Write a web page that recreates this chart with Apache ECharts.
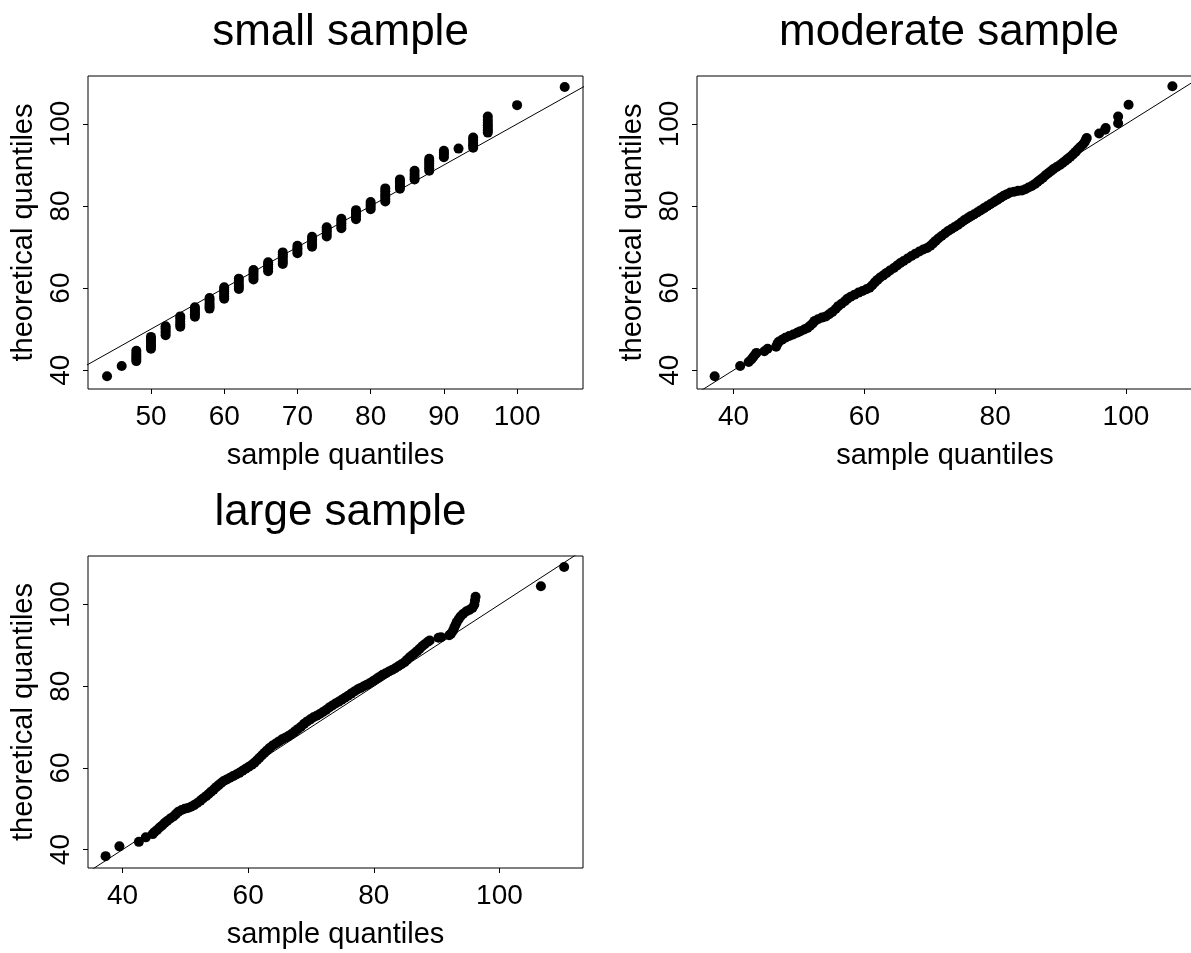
<!DOCTYPE html>
<html>
<head>
<meta charset="utf-8">
<script src="https://cdn.jsdelivr.net/npm/echarts@6/dist/echarts.min.js"></script>
<style>
html,body{margin:0;padding:0;background:#fff;}
#c{width:1191px;height:953px;}
</style>
</head>
<body>
<div id="c"></div>
<script>
// ---- data (sample quantile, theoretical quantile) ----
const titles = ['small sample', 'moderate sample', 'large sample'];
const xName = 'sample quantiles';
const yName = 'theoretical quantiles';
const xTicksSmall = [50, 60, 70, 80, 90, 100];
const xTicksModerate = [40, 60, 80, 100];
const xTicksLarge = [40, 60, 80, 100];
const yTicks = [40, 60, 80, 100];
const refLine = [[20, 20], [130, 130]]; // y = x

const smallSample = [
  [44,38.5],[46,41.0],
  [48,42.2],[48,42.8],[48,43.4],[48,44.0],[48,44.7],
  [50,45.2],[50,45.8],[50,46.4],[50,47.0],[50,47.5],[50,48.1],
  [52,48.5],[52,49.1],[52,49.6],[52,50.2],[52,50.7],
  [54,50.6],[54,51.2],[54,51.8],[54,52.5],[54,53.1],
  [56,53.0],[56,53.6],[56,54.2],[56,54.8],[56,55.3],
  [58,55.0],[58,55.6],[58,56.2],[58,56.9],[58,57.6],
  [60,57.4],[60,58.0],[60,58.6],[60,59.2],[60,59.7],[60,60.2],
  [62,59.8],[62,60.4],[62,61.0],[62,61.7],[62,62.3],
  [64,62.1],[64,62.7],[64,63.3],[64,63.9],[64,64.4],
  [66,64.1],[66,64.7],[66,65.2],[66,65.8],[66,66.3],
  [68,65.9],[68,66.5],[68,67.1],[68,67.7],[68,68.2],[68,68.7],
  [70,68.5],[70,69.1],[70,69.7],[70,70.3],
  [72,70.1],[72,70.7],[72,71.3],[72,71.9],[72,72.5],
  [74,72.6],[74,73.2],[74,73.8],[74,74.3],[74,74.8],
  [76,74.6],[76,75.2],[76,75.8],[76,76.4],[76,76.9],
  [78,76.8],[78,77.4],[78,78.0],[78,78.5],[78,79.0],
  [80,79.2],[80,79.8],[80,80.4],[80,81.0],
  [82,81.1],[82,81.7],[82,82.3],[82,82.9],[82,83.6],[82,84.3],
  [84,84.2],[84,84.8],[84,85.4],[84,86.0],[84,86.5],
  [86,86.5],[86,87.1],[86,87.8],[86,88.6],
  [88,88.6],[88,89.2],[88,89.8],[88,90.4],[88,91.0],[88,91.5],
  [90,91.9],[90,92.5],[90,93.0],[90,93.5],
  [92,94.0],
  [94,94.2],[94,94.8],[94,95.4],[94,96.1],[94,96.7],
  [96,97.9],[96,98.5],[96,99.1],[96,99.7],[96,100.3],[96,101.0],[96,101.8],
  [100,104.6],[106.5,109.0]
];

const moderateSample = [
  [37.1,38.5],[41.0,41.0],[42.3,42.0],[42.7,42.6],[43.0,43.2],[43.3,43.8],[43.5,44.2],
  [44.7,44.6],[45.2,45.2],[46.5,45.7],[46.7,46.4],[46.9,46.9],[47.4,47.4],[47.9,47.9],
  [48.5,48.3],[49.1,48.7],[49.7,49.1],[50.2,49.5],[50.8,49.9],[51.3,50.3],[51.7,50.8],
  [52.1,51.4],[52.4,52.0],[52.9,52.4],[53.5,52.8],[54.1,53.1],[54.6,53.6],[55.1,54.2],
  [55.6,54.9],[56.0,55.6],[56.5,56.2],[57.0,56.8],[57.4,57.4],[57.9,57.9],[58.5,58.4],
  [59.1,58.9],[59.7,59.3],[60.3,59.7],[60.8,60.1],[61.2,60.7],[61.6,61.4],[62.0,62.0],
  [62.4,62.6],[62.9,63.1],[63.4,63.7],[63.9,64.3],[64.5,64.9],[65.0,65.5],[65.5,66.1],
  [66.0,66.6],[66.6,67.2],[67.2,67.8],[67.8,68.4],[68.4,68.9],[69.0,69.4],[69.6,69.8],
  [70.1,70.3],[70.5,70.9],[70.9,71.5],[71.3,72.1],[71.8,72.7],[72.3,73.3],[72.8,73.9],
  [73.3,74.4],[73.8,74.9],[74.3,75.4],[74.8,76.0],[75.3,76.6],[75.8,77.1],[76.3,77.6],
  [76.8,78.0],[77.3,78.5],[77.8,79.0],[78.3,79.5],[78.8,80.0],[79.3,80.5],[79.8,81.0],
  [80.3,81.5],[80.8,82.0],[81.3,82.5],[81.8,82.9],[82.3,83.3],[82.9,83.5],[83.5,83.7],
  [84.1,83.8],[84.6,84.1],[85.1,84.5],[85.6,84.9],[86.1,85.4],[86.5,85.9],[86.9,86.4],
  [87.3,86.9],[87.7,87.5],[88.1,88.0],[88.5,88.5],[88.9,89.0],[89.4,89.5],[89.9,90.0],
  [90.3,90.5],[90.7,91.0],[91.1,91.5],[91.5,92.0],[91.9,92.6],[92.3,93.2],[92.6,93.8],
  [93.0,94.4],[93.4,95.0],[93.7,95.6],[93.9,96.3],[94.0,96.6],
  [95.9,97.7],[96.8,98.6],[96.9,99.0],[98.8,100.2],[98.8,101.8],[100.4,104.7],[107.1,109.2]
];

const largeSample = [
  [37.3,38.4],[39.5,40.8],[42.6,41.9],[43.7,43.0],[44.8,43.8],[45.1,44.3],[45.5,44.8],
  [45.9,45.4],[46.3,45.9],[46.7,46.5],[47.1,47.0],[47.6,47.6],[48.1,48.1],[48.5,48.7],
  [48.9,49.3],[49.4,49.7],[49.9,50.0],[50.4,50.2],[50.9,50.5],[51.4,50.9],[51.9,51.4],
  [52.4,52.0],[52.8,52.5],[53.3,53.1],[53.7,53.6],[54.1,54.2],[54.5,54.7],[54.9,55.3],
  [55.3,55.8],[55.7,56.3],[56.1,56.8],[56.6,57.2],[57.1,57.6],[57.6,58.0],[58.1,58.4],
  [58.6,58.8],[59.1,59.3],[59.6,59.8],[60.1,60.3],[60.6,60.8],[61.0,61.3],[61.4,61.9],
  [61.8,62.5],[62.2,63.1],[62.6,63.7],[63.0,64.3],[63.4,64.9],[63.9,65.5],[64.4,66.0],
  [64.9,66.5],[65.4,67.0],[65.9,67.4],[66.4,67.8],[66.9,68.3],[67.4,68.9],[67.9,69.5],
  [68.4,70.1],[68.9,70.8],[69.4,71.4],[69.9,71.9],[70.4,72.4],[70.9,72.8],[71.4,73.2],
  [71.9,73.7],[72.4,74.2],[72.9,74.8],[73.4,75.3],[73.9,75.8],[74.4,76.2],[74.9,76.7],
  [75.4,77.2],[75.9,77.7],[76.4,78.2],[76.9,78.7],[77.4,79.2],[77.9,79.6],[78.4,80.0],
  [78.9,80.4],[79.4,80.8],[79.9,81.3],[80.4,81.8],[80.9,82.3],[81.4,82.8],[81.9,83.2],
  [82.4,83.6],[82.9,84.0],[83.4,84.4],[83.9,84.9],[84.4,85.4],[84.9,85.9],[85.3,86.5],
  [85.7,87.1],[86.1,87.6],[86.5,88.1],[86.9,88.6],[87.3,89.2],[87.7,89.8],[88.1,90.3],
  [88.6,90.9],[88.9,91.2],[90.3,91.9],[90.7,92.0],[92.0,92.5],[92.3,92.9],
  [92.6,93.6],[92.8,94.3],[93.0,95.0],[93.2,95.7],[93.5,96.4],[93.8,97.1],[94.2,97.7],
  [94.7,98.3],[95.2,98.7],[95.7,99.2],[96.0,100.0],[96.1,101.0],[96.2,101.9],
  [106.6,104.5],[110.3,109.2]
];

// ---- chart ----
const FONT = "'Liberation Sans', Arial, Helvetica, sans-serif";
const TICK_FS = 28, NAME_FS = 29, TITLE_FS = 44;

const grids = [
  {left: 88, top: 76, width: 495, height: 313},
  {left: 697, top: 76, width: 496, height: 313},
  {left: 88, top: 556, width: 495, height: 312}
];
const xRanges = [[41.4, 109.0], [34.4, 110.25], [34.5, 113.3]];
const yRanges = [[35.4, 111.7], [35.4, 111.7], [35.5, 111.9]];
const xTickSets = [xTicksSmall, xTicksModerate, xTicksLarge];
const samples = [smallSample, moderateSample, largeSample];

function xAxisOf(i) {
  return {
    type: 'value', gridIndex: i, min: xRanges[i][0], max: xRanges[i][1],
    name: xName, nameLocation: 'middle', nameGap: 52,
    nameTextStyle: {fontSize: NAME_FS, color: '#000', fontFamily: FONT},
    axisLine: {show: false},
    axisTick: {show: true, inside: false, length: 5, customValues: xTickSets[i], lineStyle: {color: '#000', width: 1}},
    axisLabel: {show: true, customValues: xTickSets[i], margin: 14, fontSize: TICK_FS, color: '#000', fontFamily: FONT},
    splitLine: {show: false}
  };
}
function yAxisOf(i) {
  return {
    type: 'value', gridIndex: i, min: yRanges[i][0], max: yRanges[i][1],
    name: yName, nameLocation: 'middle', nameGap: 50,
    nameTextStyle: {fontSize: NAME_FS, color: '#000', fontFamily: FONT},
    axisLine: {show: false},
    axisTick: {show: true, inside: false, length: 5, customValues: yTicks, lineStyle: {color: '#000', width: 1}},
    axisLabel: {show: true, rotate: 90, customValues: yTicks, margin: 13, fontSize: TICK_FS, color: '#000', fontFamily: FONT},
    splitLine: {show: false}
  };
}

const titleCenters = [[335.5, 6], [944, 6], [335.5, 486]];

const option = {
  backgroundColor: '#fff',
  animation: false,
  title: titles.map((t, i) => ({
    text: t, left: titleCenters[i][0], top: titleCenters[i][1], textAlign: 'center',
    textStyle: {fontSize: TITLE_FS, fontWeight: 'normal', color: '#000', fontFamily: FONT}
  })),
  grid: grids.map(g => Object.assign({show: true, borderColor: '#000', borderWidth: 1, backgroundColor: 'transparent', containLabel: false, outerBoundsMode: 'none'}, g)),
  xAxis: [0, 1, 2].map(xAxisOf),
  yAxis: [0, 1, 2].map(yAxisOf),
  series: [0, 1, 2].flatMap(i => [
    {
      type: 'line', xAxisIndex: i, yAxisIndex: i, data: refLine, symbol: 'none',
      lineStyle: {color: '#000', width: 1}, clip: true, silent: true, z: 3
    },
    {
      type: 'scatter', xAxisIndex: i, yAxisIndex: i, data: samples[i], symbol: 'circle',
      symbolSize: 10, itemStyle: {color: '#000', opacity: 1}, clip: true, silent: true, z: 2
    }
  ])
};

const chart = echarts.init(document.getElementById('c'), null, {renderer: 'canvas'});
chart.setOption(option);
</script>
</body>
</html>
